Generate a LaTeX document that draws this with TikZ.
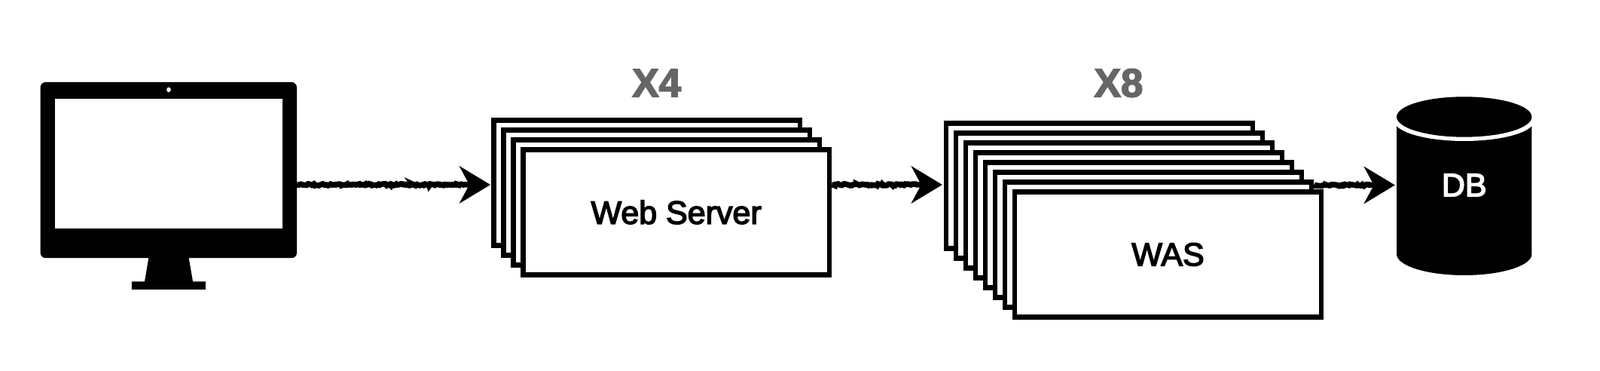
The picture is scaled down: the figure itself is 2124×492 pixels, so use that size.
\documentclass[tikz,border=0pt]{standalone}
\usepackage{fontspec}
\setmainfont{Liberation Sans}
\newfontfamily\boxfont[FakeBold=3.5]{Liberation Sans}
\newfontfamily\countfont[FakeBold=3]{Liberation Sans Bold}
\usetikzlibrary{positioning, arrows.meta, decorations.pathmorphing}
\definecolor{CountColor}{RGB}{102,102,102}

\begin{document}
\begin{tikzpicture}[
  x=1pt, y=1pt,
  replica/.style={
    rectangle, draw=black, line width=6.5pt, fill=white,
    minimum width=406.7pt, minimum height=166.4pt, inner sep=0pt,
    font=\fontsize{43}{43}\selectfont\boxfont
  },
  count/.style={
    anchor=base, inner sep=0pt, text=CountColor,
    font=\fontsize{53}{53}\selectfont\countfont
  },
  arr/.style={
    -{Stealth[length=41pt, width=49pt, inset=13pt]}, line width=7.5pt, draw=black,
    decorate, decoration={random steps, segment length=2pt, amplitude=1.2pt, post length=36pt}
  }
]
\useasboundingbox (0,0) rectangle (2124,492);
\fill[white] (0,0) rectangle (2124,492);

% ================ monitor ================
\node[fill=black, rounded corners=7pt, minimum width=340.4pt, minimum height=233.3pt] (monitor) at (223.8,266.4) {};
\node[fill=white, minimum width=302pt, minimum height=171.7pt, inner sep=0pt] (screen) at (224,275.2) {};
\fill[white] (224,373) ellipse[x radius=2.8, y radius=3.3];
\fill (197.5,151) -- (250.5,151) -- (256,118.7) -- (272.8,118.7) -- (272.8,108) -- (174.8,108) -- (174.8,118.7) -- (192,118.7) -- cycle;

% ================ web server stack ================
\coordinate (flowline) at (0,247);
\node[replica] at (858.65,249.5) (web1) {};
\node[replica, xshift=13pt, yshift=-13pt] at (web1) (web2) {};
\node[replica, xshift=13pt, yshift=-13pt] at (web2) (web3) {};
\node[replica, xshift=13pt, yshift=-13pt] at (web3) (web4) {Web Server};
\node[count] (webcount) at (871.7,363.7) {X4};

% ================ WAS stack ================
\node[replica] at (1459.5,245.5) (was1) {};
\node[replica, xshift=13pt, yshift=-13pt] at (was1) (was2) {};
\node[replica, xshift=13pt, yshift=-13pt] at (was2) (was3) {};
\node[replica, xshift=13pt, yshift=-13pt] at (was3) (was4) {};
\node[replica, xshift=13pt, yshift=-13pt] at (was4) (was5) {};
\node[replica, xshift=13pt, yshift=-13pt] at (was5) (was6) {};
\node[replica, xshift=13pt, yshift=-13pt] at (was6) (was7) {};
\node[replica, xshift=13pt, yshift=-13pt] at (was7) (was8) {WAS};
\node[count] (wascount) at (1485,363.7) {X8};

% ================ database ================
\fill (1854,332) -- (1854,155) arc[start angle=180, end angle=360, x radius=89.7, y radius=28] -- (2033.4,332) -- cycle;
\fill[white] (1943.7,332) ellipse[x radius=93, y radius=27];
\fill (1943.7,337) ellipse[x radius=89.7, y radius=26.7];
\node[text=white, inner sep=0pt, minimum width=179.4pt, font=\fontsize{43}{43}\selectfont\boxfont] (db) at (1943.7,246.5) {DB};

% ================ arrows ================
\draw[arr, shorten >=1pt] (monitor.east |- flowline) -- (web1.west |- flowline);
\draw[arr, shorten >=2pt] (web4.east |- flowline) -- (was1.west |- flowline);
\draw[arr, shorten >=2pt] (was7.east |- db.west) -- (db.west);
\end{tikzpicture}
\end{document}
